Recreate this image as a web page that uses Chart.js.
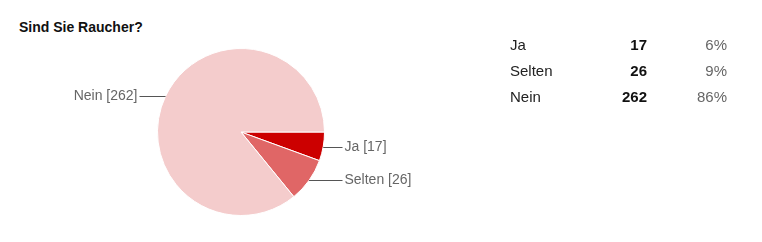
<!DOCTYPE html>
<html><head><meta charset="utf-8">
<script src="https://cdn.jsdelivr.net/npm/chart.js@4/dist/chart.umd.min.js"></script>
<style>
html,body{margin:0;padding:0;background:#fff;}
#wrap{position:relative;width:762px;height:242px;overflow:hidden;font-family:"Liberation Sans",Arial,sans-serif;}
#title{position:absolute;left:19px;top:19px;font-size:14px;font-weight:bold;color:#111;white-space:nowrap;}
canvas{position:absolute;left:0;top:0;}
table{position:absolute;left:506px;top:32px;border-collapse:collapse;font-size:15px;}
td{padding:0;height:26px;line-height:26px;white-space:nowrap;}
td.l{width:100px;color:#222;padding-left:4px;}
td.n{width:37px;text-align:right;font-weight:bold;color:#111;}
td.p{width:80px;text-align:right;color:#666;}
</style></head>
<body><div id="wrap">
<div id="title">Sind Sie Raucher?</div>
<canvas id="c" width="762" height="242"></canvas>
<table id="t"></table>
</div>
<script>
const categories = ["Ja", "Selten", "Nein"];
const counts = [17, 26, 262];
const percents = ["6%", "9%", "86%"];
const colors = ["#cc0000", "#e06666", "#f4cccc"];

const tbl = document.getElementById('t');
categories.forEach((c, i) => {
  const tr = document.createElement('tr');
  tr.innerHTML = '<td class="l"></td><td class="n"></td><td class="p"></td>';
  tr.children[0].textContent = c;
  tr.children[1].textContent = counts[i];
  tr.children[2].textContent = percents[i];
  tbl.appendChild(tr);
});

const labelPlugin = {
  id: 'leaderLabels',
  afterDatasetsDraw(chart) {
    const ctx = chart.ctx;
    const meta = chart.getDatasetMeta(0);
    ctx.save();
    ctx.font = '14px "Liberation Sans", Arial, sans-serif';
    ctx.textBaseline = 'middle';
    meta.data.forEach((arc, i) => {
      const mid = (arc.startAngle + arc.endAngle) / 2;
      const r = arc.outerRadius;
      const x0 = arc.x + Math.cos(mid) * r;
      const y0 = Math.round(arc.y + Math.sin(mid) * r) + 0.5;
      const right = Math.cos(mid) >= 0;
      const x1 = right ? arc.x + r + 18 : arc.x - r - 18;
      ctx.strokeStyle = '#555';
      ctx.lineWidth = 1;
      ctx.beginPath();
      ctx.moveTo(x0, y0);
      ctx.lineTo(x1, y0);
      ctx.stroke();
      ctx.fillStyle = '#666';
      ctx.textAlign = right ? 'left' : 'right';
      const txt = categories[i] + ' [' + counts[i] + ']';
      ctx.fillText(txt, right ? x1 + 2 : x1 - 2, y0);
    });
    ctx.restore();
  }
};

new Chart(document.getElementById('c'), {
  type: 'pie',
  data: {
    labels: categories,
    datasets: [{
      data: counts,
      backgroundColor: colors,
      borderColor: '#ffffff',
      borderWidth: 1
    }]
  },
  options: {
    responsive: false,
    animation: false,
    rotation: 90,
    layout: { padding: { left: 157, right: 437, top: 48, bottom: 26 } },
    plugins: { legend: { display: false }, tooltip: { enabled: false } }
  },
  plugins: [labelPlugin]
});
</script>
</body></html>
